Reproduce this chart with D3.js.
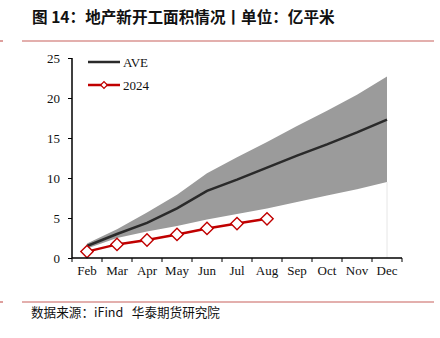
<!DOCTYPE html>
<html><head><meta charset="utf-8">
<script src="https://cdn.jsdelivr.net/npm/d3@7"></script>
<style>body{margin:0;background:#fff}svg{display:block}</style>
</head><body>
<script>
const months = ["Feb","Mar","Apr","May","Jun","Jul","Aug","Sep","Oct","Nov","Dec"];
const aveValues = [1.5, 3.0, 4.4, 6.2, 8.4, 9.8, 11.3, 12.8, 14.2, 15.7, 17.3];
const bandMax = [1.8, 3.6, 5.7, 7.9, 10.6, 12.6, 14.5, 16.5, 18.4, 20.4, 22.7];
const bandMin = [1.2, 2.5, 3.3, 4.0, 4.8, 5.5, 6.2, 7.0, 7.8, 8.6, 9.5];
const values2024 = [0.8, 1.7, 2.25, 2.95, 3.7, 4.3, 4.9];
const yTicks = [0, 5, 10, 15, 20, 25];
const titleText = "图 14：地产新开工面积情况丨单位：亿平米";
const sourceText = "数据来源：iFind   华泰期货研究院";

const W = 440, H = 338;
const svg = d3.select("body").append("svg").attr("width", W).attr("height", H);
const serif = "'Liberation Serif','Times New Roman',serif";
const redLine = "#c8605d";

svg.append("text").attr("x", 32).attr("y", 23).text(titleText)
  .attr("font-family", "'Noto Sans CJK SC',sans-serif").attr("font-weight", "bold")
  .attr("font-size", 15.6).attr("fill", "#111");
[41, 302].forEach(y => {
  svg.append("line").attr("x1", 22).attr("x2", 434).attr("y1", y).attr("y2", y)
    .attr("stroke", redLine).attr("stroke-width", 1.2);
  svg.append("line").attr("x1", 0).attr("x2", 3).attr("y1", y).attr("y2", y)
    .attr("stroke", redLine).attr("stroke-width", 1.2);
});
svg.append("text").attr("x", 31).attr("y", 317).text(sourceText)
  .attr("font-family", "'Noto Sans CJK SC',sans-serif").attr("font-size", 12.6).attr("fill", "#111")
  .style("white-space", "pre").attr("xml:space", "preserve");

const x = d3.scaleBand().domain(months).range([72, 402]);
const y = d3.scaleLinear().domain([0, 25]).range([258, 58]);
const cx = m => x(m) + x.bandwidth() / 2;

// band
const bandData = months.map((m, i) => ({m, lo: bandMin[i], hi: bandMax[i]}));
svg.append("path").datum(bandData)
  .attr("d", d3.area().x(d => cx(d.m)).y0(d => y(d.lo)).y1(d => y(d.hi)))
  .attr("fill", "#9b9b9b");
svg.append("line").attr("x1", cx("Dec")).attr("x2", cx("Dec"))
  .attr("y1", y(bandMin[bandMin.length - 1])).attr("y2", y(0))
  .attr("stroke", "#e6e6e6").attr("stroke-width", 1);

// AVE
svg.append("path").datum(aveValues)
  .attr("d", d3.line().x((d, i) => cx(months[i])).y(d => y(d)))
  .attr("fill", "none").attr("stroke", "#2a2a2a").attr("stroke-width", 2.5);

// 2024
svg.append("path").datum(values2024)
  .attr("d", d3.line().x((d, i) => cx(months[i])).y(d => y(d)))
  .attr("fill", "none").attr("stroke", "#c00000").attr("stroke-width", 2.5);
svg.selectAll(".pt").data(values2024).join("path")
  .attr("d", d3.symbol().type(d3.symbolSquare).size(76))
  .attr("transform", (d, i) => `translate(${cx(months[i])},${y(d)}) rotate(45)`)
  .attr("fill", "#fff").attr("stroke", "#c00000").attr("stroke-width", 1.4);

// axes
const yAxis = svg.append("g").attr("transform", "translate(72,0)")
  .call(d3.axisLeft(y).tickValues(yTicks).tickSize(4).tickPadding(8));
const xAxis = svg.append("g").attr("transform", "translate(0,258)")
  .call(d3.axisBottom(x).tickSize(4).tickPadding(4));
xAxis.selectAll(".tick line").remove();
const edges = months.map(m => x(m)).concat([402]);
xAxis.selectAll(".edge").data(edges).join("line")
  .attr("x1", d => d).attr("x2", d => d).attr("y1", 0).attr("y2", 4)
  .attr("stroke", "#000").attr("stroke-width", 1);
[yAxis, xAxis].forEach(g => {
  g.select(".domain").attr("stroke", "#000").attr("stroke-width", 1.5);
  g.selectAll("text").attr("font-family", serif).attr("font-size", 13).attr("fill", "#111");
});
yAxis.select(".domain").attr("d", "M-0,258V58");
xAxis.select(".domain").attr("d", "M72,0H402");

// legend
svg.append("line").attr("x1", 88).attr("x2", 120).attr("y1", 62).attr("y2", 62)
  .attr("stroke", "#2a2a2a").attr("stroke-width", 2.5);
svg.append("text").attr("x", 123).attr("y", 66.5).text("AVE")
  .attr("font-family", serif).attr("font-size", 13).attr("fill", "#111");
svg.append("line").attr("x1", 88).attr("x2", 120).attr("y1", 85).attr("y2", 85)
  .attr("stroke", "#c00000").attr("stroke-width", 2.5);
svg.append("path").attr("transform", "translate(104,85) rotate(45)")
  .attr("d", d3.symbol().type(d3.symbolSquare).size(22))
  .attr("fill", "#fff").attr("stroke", "#c00000").attr("stroke-width", 1.2);
svg.append("text").attr("x", 123).attr("y", 89.5).text("2024")
  .attr("font-family", serif).attr("font-size", 13).attr("fill", "#111");
</script>
</body></html>
